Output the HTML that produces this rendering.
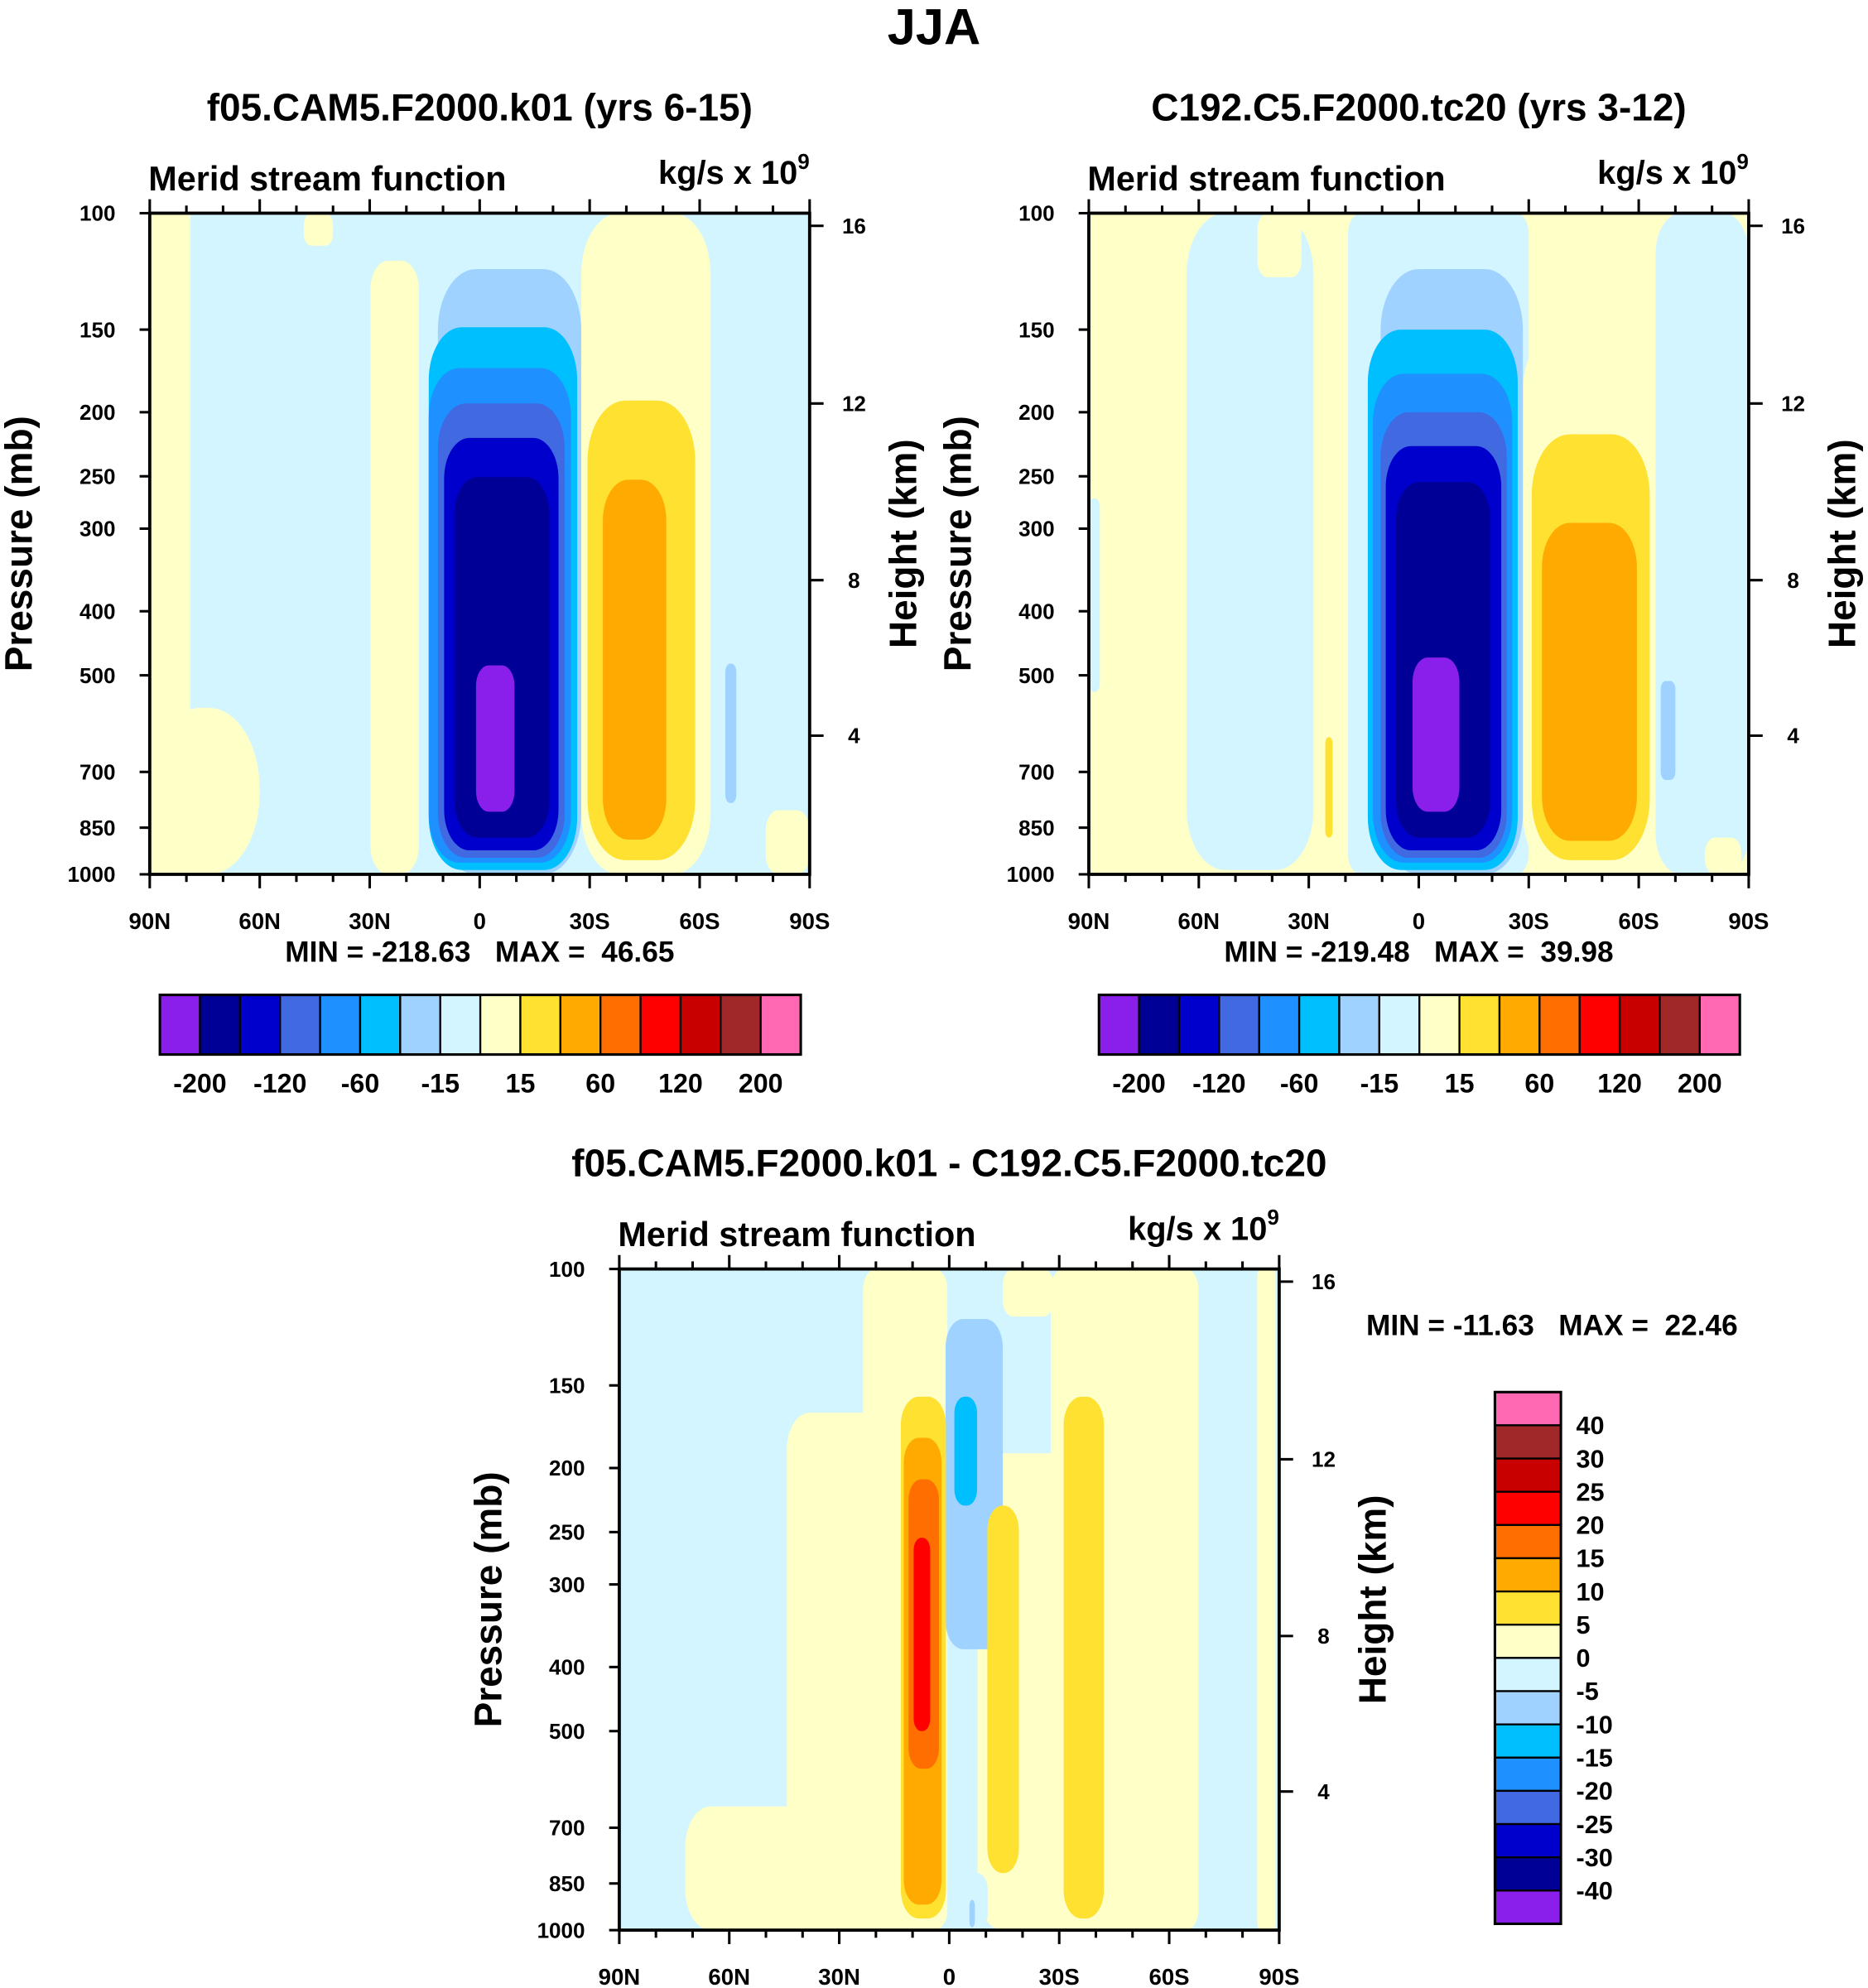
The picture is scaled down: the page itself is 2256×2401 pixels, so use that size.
<!DOCTYPE html>
<html><head><meta charset="utf-8">
<style>
html,body{margin:0;padding:0;background:#fff;}
svg{display:block;}
text{font-family:"Liberation Sans",Arial,sans-serif;font-weight:bold;fill:#000;white-space:pre;}
</style></head>
<body>
<svg id="fig" width="2256" height="2401" viewBox="0 0 1472 1566.6" preserveAspectRatio="none" xmlns="http://www.w3.org/2000/svg">
<text x="736" y="35" font-size="40" text-anchor="middle">JJA</text>
</svg>
<script>
const colors=['#8A1FEB','#000096','#0000CD','#4169E1','#1E90FF','#00BFFF','#A0D2FF','#D2F5FF','#FFFFC8','#FFE132','#FFAA00','#FF6E00','#FF0000','#C80000','#A02828','#FF69B4'];
const cbLabels1=["-200","-120","-60","-15","15","60","120","200"];
const cbLabels3=["40","30","25","20","15","10","5","0","-5","-10","-15","-20","-25","-30","-40"];
const presTicks=[100,150,200,250,300,400,500,700,850,1000];
const heightTicks=[4,8,12,16];
const heightPres=[617,359,194,104.5];
const latTicks=[90,60,30,0,-30,-60,-90];
const latLabels=["90N","60N","30N","0","30S","60S","90S"];
// regions: [colorIndex, latLeft, latRight, pTop, pBottom, cornerRadius]
const panel1Regions=[
 [8,90,78.9,100,1000,0],[8,90,60,560,1000,40],[8,29.8,16.6,118,1000,14],[8,-27.7,-63,100,1000,30],[8,48,40,100,112,6],[8,-78,-90,800,1000,10],
 [6,11.4,-27.7,121.5,1000,30],[5,13.9,-26.6,148.8,985,26],[4,13.9,-24.9,171.5,960,24],[3,11.4,-23.2,194,944,22],[2,9.7,-21.5,218.7,920,20],[1,6.9,-19,250.7,880,18],[0,1.0,-9.5,483,804,10],
 [9,-29.4,-58.8,192,952,30],[10,-33.6,-50.9,253,886,20],[6,-67,-70,480,780,4]
];
const panel2Regions=[
 [7,63.3,28.7,100,985,30],[7,90,87,270,530,4],[7,19.3,-30,100,1000,10],[7,-64.6,-90,100,1000,20],[8,44,32,100,125,8],
 [8,28.7,19.3,117,1000,12],[8,-28.4,-64.6,150,1000,30],[8,-78,-88,880,1000,8],
 [6,10.4,-28.4,121.5,1000,30],[5,13.9,-27,150,985,26],[4,12.5,-25.5,175,960,24],[3,10.4,-24,200,944,22],[2,9.0,-22.5,225,920,20],[1,6.2,-19.5,255,880,18],[0,1.7,-11.1,470,804,12],
 [9,-30.8,-63,216,952,30],[10,-33.6,-59.5,294,890,22],[9,25.5,23.5,620,880,3],[6,-66,-70,510,720,4]
];
const panel3Regions=[
 [8,23.5,0.5,100,1000,10],[8,44.3,16.6,165,1000,18],[8,-7.7,-68,190,1000,20],[8,-27.7,-68,100,1000,10],[8,-14.6,-28.5,100,118,8],[8,72,16.6,650,1000,20],[8,-84,-89,100,1000,3],
 [6,1.0,-14.6,119,376,14],[5,-1.4,-7.6,156,228,8],[7,-3.5,-10.5,820,1000,8],[6,-5.5,-7,900,990,3],
 [9,13.2,0.9,156,960,14],[9,-10.4,-19,228,820,12],[9,-31.2,-42.2,156,960,14],
 [10,12.4,2.1,180,915,12],[11,11.1,2.8,208,570,10],[12,9.7,5.2,255,500,6]
];
const NS='http://www.w3.org/2000/svg';
const svg=document.getElementById('fig');
function el(tag,attrs,parent){const e=document.createElementNS(NS,tag);for(const k in attrs)e.setAttribute(k,attrs[k]);(parent||svg).appendChild(e);return e;}
function txt(x,y,s,size,anchor,parent){const t=el('text',{x:x,y:y,'font-size':size,'text-anchor':anchor||'middle'},parent);t.textContent=s;return t;}

function panel(id,x0,y0,bg,regions,title,minmax,mmx,mmy){
  const W=520,H=521;
  const xs=lat=>x0+(90-lat)/180*W;
  const ys=p=>y0+Math.log10(p/100)*H;
  const g=el('g',{});
  
  
  const cp=el('clipPath',{id:'clip-'+id},g);
  el('rect',{x:x0,y:y0,width:W,height:H},cp);
  const plot=el('g',{'clip-path':'url(#clip-'+id+')'},g);
  const bgr=el('rect',{x:x0,y:y0,width:W,height:H,fill:bg},plot);
  
  
  regions.forEach(r=>{
    const x1=xs(r[1]),x2=xs(r[2]),y1=ys(r[3]),y2=ys(r[4]);
    const rc=el('rect',{x:x1,y:y1,width:x2-x1,height:y2-y1,rx:r[5],ry:r[5]*1.6,fill:colors[r[0]]},plot);
    
    
  });
  const frame=el('rect',{x:x0,y:y0,width:W,height:H,fill:'none',stroke:'#000','stroke-width':2.5},g);
  
  
  for(let lat=90;lat>=-90;lat-=10){
    const maj=lat%30===0, x=xs(lat), L=maj?11:6;
    el('line',{x1:x,y1:y0,x2:x,y2:y0-L,stroke:'#000','stroke-width':2},g);
    el('line',{x1:x,y1:y0+H,x2:x,y2:y0+H+L,stroke:'#000','stroke-width':2},g);
  }
  latTicks.forEach((lat,i)=>{const t=txt(xs(lat),y0+H+43,latLabels[i],18,'middle',g);
    
    });
  presTicks.forEach(p=>{const y=ys(p);
    el('line',{x1:x0,y1:y,x2:x0-8,y2:y,stroke:'#000','stroke-width':2},g);
    const t=txt(x0-27,y+6,String(p),17,'end',g);
    
    });
  heightTicks.forEach((h,i)=>{const y=ys(heightPres[i]);
    el('line',{x1:x0+W,y1:y,x2:x0+W+11,y2:y,stroke:'#000','stroke-width':2},g);
    const t=txt(x0+W+35,y+6,String(h),17,'middle',g);
    
    });
  const yl=txt(0,0,'Pressure (mb)',30,'middle',g);
  yl.setAttribute('transform','translate('+(x0-93)+','+(y0+H/2)+') rotate(-90)');
  
  
  const hl=txt(0,0,'Height (km)',30,'middle',g);
  hl.setAttribute('transform','translate('+(x0+W+84)+','+(y0+H/2)+') rotate(-90)');
  
  
  const lt=txt(x0-1,y0-18,'Merid stream function',27,'start',g);
  
  
  const rt=el('text',{x:x0+W,y:y0-23,'font-size':26,'text-anchor':'end'},g);
  
  
  rt.innerHTML='kg/s x 10<tspan font-size="17" dy="-12">9</tspan>';
  const tt=txt(x0+W/2,y0-73,title,30,'middle',g);
  
  
  const mm=txt(mmx,mmy,minmax,23,'middle',g);
  
  
}
function hbar(id,x0,y0){
  const g=el('g',{});
  
  
  const w=505/16;
  colors.forEach((c,i)=>{const r=el('rect',{x:x0+i*w,y:y0,width:w,height:47,fill:c,stroke:'#000','stroke-width':1.5},g);
    
    });
  el('rect',{x:x0,y:y0,width:505,height:47,fill:'none',stroke:'#000','stroke-width':2},g);
  cbLabels1.forEach((s,i)=>{const t=txt(x0+(2*i+1)*w,y0+77,s,21,'middle',g);
    
    });
}
panel('panel-model1',118,168,'#D2F5FF',panel1Regions,'f05.CAM5.F2000.k01 (yrs 6-15)','MIN = -218.63   MAX =  46.65',378,758);
panel('panel-model2',858,168,'#FFFFC8',panel2Regions,'C192.C5.F2000.tc20 (yrs 3-12)','MIN = -219.48   MAX =  39.98',1118,758);
panel('panel-diff',488,1000,'#D2F5FF',panel3Regions,'f05.CAM5.F2000.k01 - C192.C5.F2000.tc20','MIN = -11.63   MAX =  22.46',1223,1052);
hbar('colorbar-model1',126,784);
hbar('colorbar-model2',866,784);
(function(){
  const g=el('g',{});
  
  
  const x0=1178,y0=1097,h=419/16;
  for(let i=0;i<16;i++){
    const r=el('rect',{x:x0,y:y0+i*h,width:52,height:h,fill:colors[15-i],stroke:'#000','stroke-width':1.5},g);
    
    
  }
  el('rect',{x:x0,y:y0,width:52,height:419,fill:'none',stroke:'#000','stroke-width':2},g);
  cbLabels3.forEach((s,i)=>{const t=txt(x0+64,y0+(i+1)*h+7,s,20,'start',g);
    
    });
})();
</script>
</body></html>
